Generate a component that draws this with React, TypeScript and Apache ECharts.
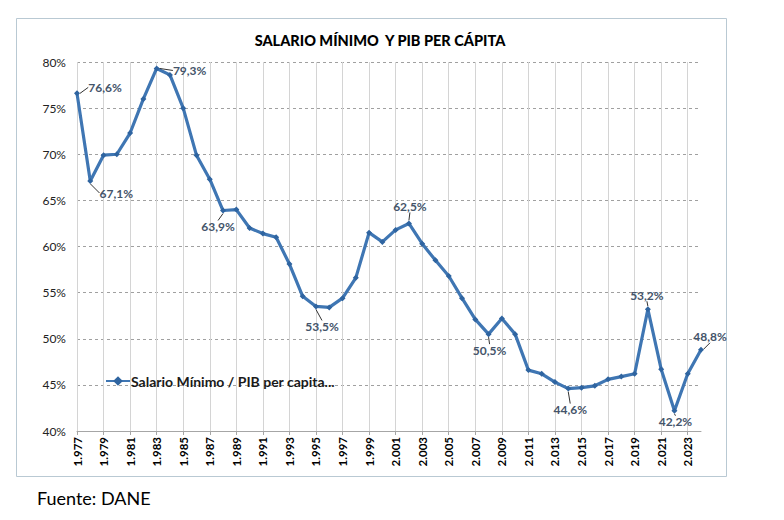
import { useRef, useEffect } from "react";
import * as echarts from "echarts";

// Salario mínimo / PIB per cápita, en %
const years = [
  1977, 1978, 1979, 1980, 1981, 1982, 1983, 1984, 1985, 1986, 1987, 1988,
  1989, 1990, 1991, 1992, 1993, 1994, 1995, 1996, 1997, 1998, 1999, 2000,
  2001, 2002, 2003, 2004, 2005, 2006, 2007, 2008, 2009, 2010, 2011, 2012,
  2013, 2014, 2015, 2016, 2017, 2018, 2019, 2020, 2021, 2022, 2023, 2024,
];
const ratio = [
  76.6, 67.1, 69.9, 70.0, 72.3, 76.0, 79.3, 78.6, 75.0, 69.9, 67.3, 63.9,
  64.0, 62.0, 61.4, 61.0, 58.1, 54.6, 53.5, 53.4, 54.4, 56.6, 61.5, 60.5,
  61.8, 62.5, 60.3, 58.5, 56.8, 54.4, 52.1, 50.5, 52.2, 50.5, 46.6, 46.2,
  45.3, 44.6, 44.7, 44.9, 45.6, 45.9, 46.2, 53.2, 46.7, 42.2, 46.2, 48.8,
];
const labelledYears = [1977, 1978, 1983, 1988, 1995, 2002, 2008, 2014, 2020, 2022, 2024];

const seriesName = "Salario Mínimo / PIB per capita...";
const font = "Lato, 'Liberation Sans', sans-serif";

// where each value label sits relative to its point: [dx, dy]
const labelShift: Record<number, [number, number]> = {
  1977: [28, -6],
  1978: [26, 12],
  1983: [33, 2],
  1988: [-5, 16],
  1995: [6, 20],
  2002: [1, -17],
  2008: [1, 16],
  2014: [2, 21],
  2020: [-1, -14],
  2022: [1, 11],
  2024: [9, -13],
};

const fmt = (v: number) => v.toFixed(1).replace(".", ",") + "%";

export default function App() {
  const chartRef = useRef<HTMLDivElement>(null);

  useEffect(() => {
    if (!chartRef.current) return;
    const chart = echarts.init(chartRef.current, null, { renderer: "svg" });

    const seriesData = ratio.map((v, i) => {
      const y = years[i];
      if (!labelledYears.includes(y)) return v;
      return {
        value: v,
        label: {
          show: true,
          position: "inside" as const,
          formatter: () => fmt(v),
        },
      };
    });

    chart.setOption({
      animation: false,
      grid: { left: 77, right: 83, top: 62, bottom: 89 },
      title: {
        text: "SALARIO MÍNIMO  Y PIB PER CÁPITA",
        left: 375,
        textAlign: "center",
        top: 28,
        textStyle: { fontFamily: font, fontSize: 14.5, fontWeight: 900, color: "#000" },
      },
      legend: {
        left: 100,
        top: 369,
        itemWidth: 24,
        itemHeight: 12,
        itemGap: 0,
        data: [seriesName],
        textStyle: { fontFamily: font, fontSize: 14, fontWeight: "bold", color: "#1a1a1a", padding: [0, 0, 0, -4] },
      },
      xAxis: {
        type: "category",
        boundaryGap: false,
        data: years.map((y) => (y / 1000).toFixed(3)),
        axisLine: { lineStyle: { color: "#a6a6a6" } },
        axisTick: { interval: 1, length: 4, lineStyle: { color: "#a6a6a6" } },
        axisLabel: {
          interval: 1,
          rotate: 90,
          fontFamily: font,
          fontSize: 11.5,
          fontWeight: "bold",
          color: "#000",
          margin: 6,
        },
        splitLine: { show: true, interval: 1, lineStyle: { color: "#d4d4d4", width: 1 } },
      },
      yAxis: {
        type: "value",
        min: 40,
        max: 80,
        interval: 5,
        axisLine: { show: false },
        axisTick: { show: false },
        axisLabel: {
          formatter: (v: number) => v + "%",
          fontFamily: font,
          fontSize: 12,
          color: "#222",
          margin: 11,
        },
        splitLine: { lineStyle: { color: "#a0a0a0", type: [3, 3] } },
      },
      series: [
        {
          name: seriesName,
          type: "line",
          data: seriesData,
          symbol: "diamond",
          symbolSize: 6,
          lineStyle: { color: "#3f76b3", width: 3.2 },
          itemStyle: { color: "#2f64a0" },
          label: {
            fontFamily: font,
            fontSize: 12,
            fontWeight: "bold",
            color: "#44546a",
          },
          labelLine: { show: true, lineStyle: { color: "#333", width: 1 } },
          labelLayout: (p: any) => {
            const y = years[p.dataIndex];
            const s = labelShift[y];
            if (!s) return {};
            return { dx: s[0], dy: s[1] };
          },
        },
      ],
      graphic: [
        {
          type: "rect",
          shape: { x: 16.5, y: 18.5, width: 710, height: 458 },
          style: { fill: "none", stroke: "#b9c9d3", lineWidth: 1 },
          silent: true,
        },
        {
          type: "text",
          left: 37,
          top: 489,
          style: { text: "Fuente: DANE", fontFamily: font, fontSize: 18, fill: "#000" },
        },
      ],
    });

    return () => {
      chart.dispose();
    };
  }, []);

  return (
    <div
      ref={chartRef}
      style={{ position: "fixed", left: 0, top: 0, width: 784, height: 520, background: "#fff" }}
    />
  );
}
